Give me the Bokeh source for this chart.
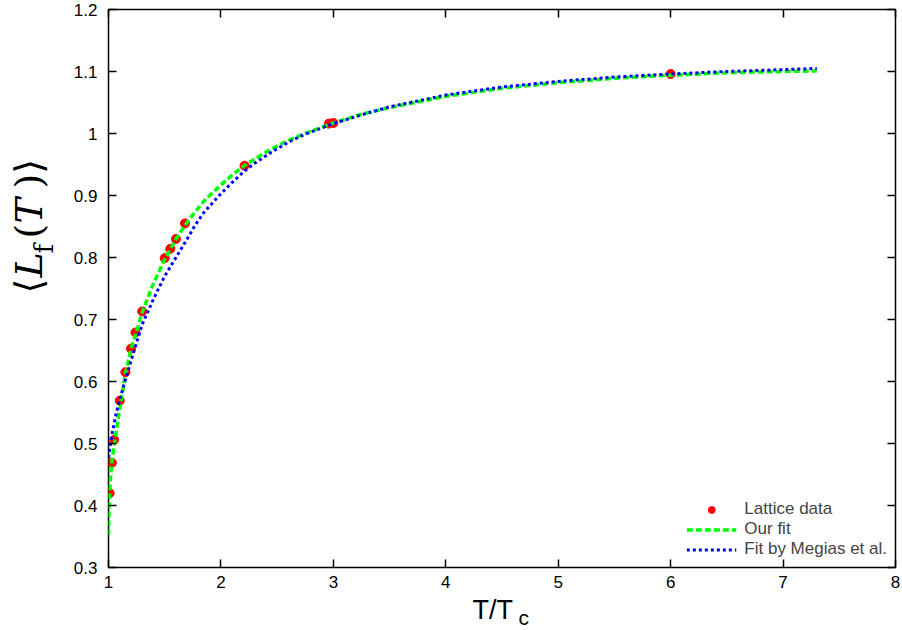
import math
from bokeh.plotting import figure
from bokeh.layouts import row, column
from bokeh.models import Range1d, LinearAxis, FixedTicker, Label, Legend, LegendItem
from bokeh.embed import file_html
from bokeh.resources import INLINE

# ---- data ----
lattice_x = [1.01, 1.03, 1.05, 1.10, 1.15, 1.20, 1.24, 1.30, 1.50, 1.55, 1.60, 1.68, 2.21, 2.96, 3.00, 6.00]
lattice_y = [0.420, 0.469, 0.506, 0.569, 0.615, 0.653, 0.679, 0.713, 0.799, 0.814, 0.830, 0.855, 0.948, 1.016, 1.017, 1.096]

ourfit_x = [1.0, 1.003, 1.01, 1.02, 1.03, 1.045, 1.06, 1.09, 1.12, 1.15, 1.2, 1.25, 1.3, 1.4, 1.5, 1.6, 1.7,
            1.75, 1.8, 1.85, 1.9, 2.0, 2.1, 2.2, 2.3, 2.45, 2.6, 2.75, 3.0, 3.25, 3.5, 4.0, 4.5, 5.0, 5.5,
            6.0, 6.5, 7.0, 7.3]
ourfit_y = [0.352, 0.38, 0.42, 0.45, 0.47, 0.49, 0.508, 0.545, 0.578, 0.612, 0.652, 0.681, 0.712, 0.758, 0.797,
            0.830, 0.857, 0.869, 0.880, 0.891, 0.900, 0.917, 0.933, 0.947, 0.959, 0.975, 0.989, 1.000, 1.017,
            1.031, 1.042, 1.060, 1.073, 1.082, 1.089, 1.094, 1.098, 1.100, 1.101]

megias_x = [1.0, 1.03, 1.07, 1.136, 1.2, 1.3, 1.4, 1.5, 1.6, 1.7, 1.77, 1.85, 2.0, 2.1, 2.2, 2.3, 2.45, 2.6,
            2.75, 3.0, 3.25, 3.5, 4.0, 4.5, 5.0, 5.5, 6.0, 6.5, 7.0, 7.3]
megias_y = [0.477, 0.514, 0.55, 0.594, 0.633, 0.692, 0.733, 0.770, 0.800, 0.830, 0.852, 0.873, 0.903, 0.921,
            0.938, 0.952, 0.970, 0.986, 0.999, 1.016, 1.030, 1.043, 1.062, 1.075, 1.084, 1.091, 1.096, 1.100,
            1.103, 1.105]

x_ticks = [1, 2, 3, 4, 5, 6, 7, 8]
x_tick_labels = ["1", "2", "3", "4", "5", "6", "7", "8"]
y_ticks = [0.3, 0.4, 0.5, 0.6, 0.7, 0.8, 0.9, 1.0, 1.1, 1.2]
y_tick_labels = ["0.3", "0.4", "0.5", "0.6", "0.7", "0.8", "0.9", "1", "1.1", "1.2"]

series_labels = ["Lattice data", "Our fit", "Fit by Megias et al."]

TICK_FONT = "Liberation Sans"

p = figure(width=838, height=595, x_range=Range1d(1, 8), y_range=Range1d(0.3, 1.2),
           output_backend="svg", toolbar_location=None, title=None,
           min_border_left=46, min_border_right=5, min_border_top=9, min_border_bottom=28)
p.grid.visible = False
p.background_fill_color = "white"
p.border_fill_color = "white"
p.outline_line_color = "black"
p.outline_line_width = 1.5


def style_axis(ax, ticks, labels, show_labels, standoff):
    ax.ticker = FixedTicker(ticks=ticks)
    if show_labels:
        ax.major_label_overrides = {t: l for t, l in zip(ticks, labels)}
    else:
        ax.major_label_overrides = {t: "" for t in ticks}
    ax.major_label_text_font = TICK_FONT
    ax.major_label_text_font_size = "17px"
    ax.major_label_text_color = "black"
    ax.major_label_standoff = standoff
    ax.major_tick_in = 8
    ax.major_tick_out = 0
    ax.major_tick_line_color = "black"
    ax.major_tick_line_width = 1.5
    ax.minor_tick_line_color = None
    ax.axis_line_color = None


style_axis(p.xaxis[0], x_ticks, x_tick_labels, True, 8)
style_axis(p.yaxis[0], y_ticks, y_tick_labels, True, 11)

right_ax = LinearAxis()
top_ax = LinearAxis()
style_axis(right_ax, y_ticks, y_tick_labels, False, 0)
style_axis(top_ax, x_ticks, x_tick_labels, False, 0)
p.add_layout(right_ax, "right")
p.add_layout(top_ax, "above")

r_pts = p.scatter(lattice_x, lattice_y, size=9, fill_color="#ff0000", line_color="#ff0000")
r_g = p.line(ourfit_x, ourfit_y, line_color="#00ff00", line_width=3.5, line_dash="6 3")
r_b = p.line(megias_x, megias_y, line_color="#0000ff", line_width=3, line_dash="3 3")

legend = Legend(items=[LegendItem(label=series_labels[0], renderers=[r_pts]),
                       LegendItem(label=series_labels[1], renderers=[r_g]),
                       LegendItem(label=series_labels[2], renderers=[r_b])],
                location="bottom_right", border_line_color=None, background_fill_alpha=0,
                label_text_font=TICK_FONT, label_text_font_size="17px",
                glyph_width=50, glyph_height=17, label_height=17, spacing=0,
                padding=4, margin=8, label_standoff=8)
p.add_layout(legend)


def text_panel(w, h):
    f = figure(width=w, height=h, x_range=Range1d(0, 1), y_range=Range1d(0, 1),
               output_backend="svg", toolbar_location=None, title=None,
               x_axis_location=None, y_axis_location=None, min_border=0)
    f.grid.visible = False
    f.outline_line_color = None
    f.background_fill_color = "white"
    f.border_fill_color = "white"
    return f


# y axis title  <L_f(T)>  (rotated pieces)
py = text_panel(62, 630)
ylab_pieces = [("\u27e8", 28, 337, "normal", "38px"),
               ("L", 28, 353, "italic", "38px"),
               ("f", 43, 377, "normal", "26px"),
               ("(", 28, 392, "normal", "38px"),
               ("T", 28, 407, "italic", "38px"),
               (")\u27e9", 28, 442, "normal", "38px")]
for txt, sx, sy, style, size in ylab_pieces:
    py.add_layout(Label(text=txt, x=sx, y=sy, x_units="screen", y_units="screen", angle=math.pi / 2,
                        text_align="left", text_baseline="alphabetic", text_font="DejaVu Serif",
                        text_font_style=style, text_font_size=size, text_color="black"))

# x axis title  T/T_c
px = text_panel(838, 35)
px.add_layout(Label(text="T/T", x=364, y=21, x_units="screen", y_units="screen",
                    text_align="left", text_baseline="alphabetic", text_font=TICK_FONT,
                    text_font_size="27px", text_color="black"))
px.add_layout(Label(text="c", x=410, y=13, x_units="screen", y_units="screen",
                    text_align="left", text_baseline="alphabetic", text_font=TICK_FONT,
                    text_font_size="21px", text_color="black"))

layout = row(py, column(p, px))
open("out.html", "w").write(file_html(layout, INLINE))
